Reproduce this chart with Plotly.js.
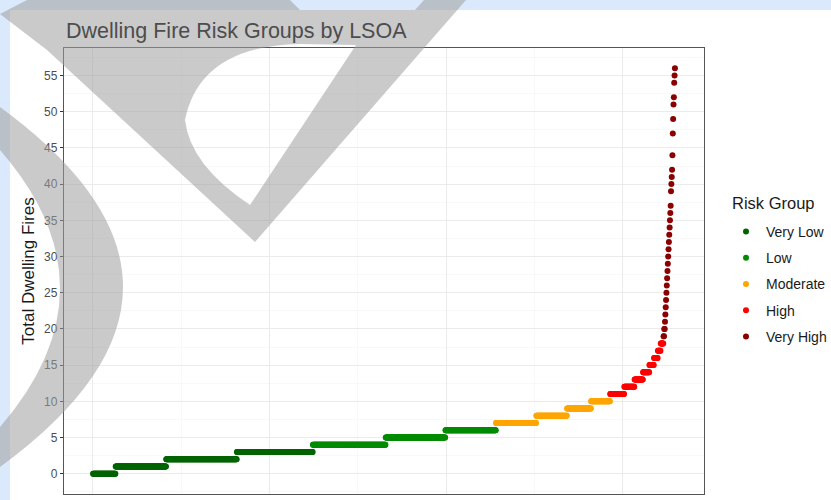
<!DOCTYPE html>
<html>
<head>
<meta charset="utf-8">
<script src="https://cdn.plot.ly/plotly-3.0.1.min.js"></script>
<style>
html,body{margin:0;padding:0;background:#ffffff;}
#chart{width:831px;height:500px;}
</style>
</head>
<body>
<div id="chart"></div>
<script>
// ---- Data (LSOAs sorted by total dwelling fires) ----
// total dwelling fires observed in an LSOA
const fireValues = [0,1,2,3,4,5,6,7,8,9,10,11,12,13,14,15,16,17,18,19,20,21,22,23,24,25,26,27,28,29,30,31,32,33,34,35,36,37,39,40,41,42,44,47,49,51,52,54,55,56];
// number of LSOAs having that total
const lsoaCounts = [64,143,200,215,206,169,143,114,87,68,54,40,29,24,18,13,11,8,8,2,2,1,1,1,1,1,1,1,1,1,1,1,1,1,1,1,1,1,1,1,1,1,1,1,1,1,1,1,1,1];
// risk groups and the highest fire total falling in each group
const riskGroups = ['Very Low','Low','Moderate','High','Very High'];
const groupMaxFires = [3,6,10,18,1000];

// ---- Build sorted LSOA points ----
const rankX = [], firesY = [];
let r = 0;
fireValues.forEach((v,i)=>{ for(let k=0;k<lsoaCounts[i];k++){ r++; rankX.push(r); firesY.push(v);} });
const N = rankX.length;

function groupOf(v){ for(let g=0; g<groupMaxFires.length; g++){ if(v<=groupMaxFires[g]) return g; } return groupMaxFires.length-1; }

const colors = ['#006400','#008B00','#FFA500','#FF0000','#8B0000'];
const FONT = 'Liberation Sans, Arial, Helvetica, sans-serif';

const traces = riskGroups.map((name,g)=>{
  const xs=[], ys=[];
  rankX.forEach((x,i)=>{ if(groupOf(firesY[i])===g){ xs.push(x); ys.push(firesY[i]); } });
  return {
    type:'scatter', mode:'markers', name:name, x:xs, y:ys,
    legendgroup:name,
    marker:{color:colors[g], size:6, line:{width:0}},
    hoverinfo:'x+y'
  };
});

// ---- Layout ----
const W=831, H=500, M={l:64, r:127, t:48, b:6};
const PW=W-M.l-M.r, PH=H-M.t-M.b;
const px = x => (x-M.l)/PW;
const py = y => 1-(y-M.t)/PH;
function pathOf(cmds){
  return cmds.map(c=>{
    const op=c[0]; const nums=c.slice(1); const out=[];
    for(let i=0;i<nums.length;i+=2){ out.push(px(nums[i]).toFixed(5)+','+py(nums[i+1]).toFixed(5)); }
    return op+out.join(' ');
  }).join(' ');
}

// watermark overlay (decorative strokes in the screenshot)
const wmA = pathOf([
  ['M',0,14],['L',27,0],['L',290,0],['L',300,10],['L',415,10],['L',424,0],['L',466,0],['L',255,242],['L',47,50],['Z'],
  ['M',250,205],['L',356,45],['L',300,44],['Q',200,46,185,120],['Q',190,165,250,205],['Z']
]);
const wmB = pathOf([
  ['M',0,107],['Q',246,287,0,467],['L',0,427],['Q',120,288,0,150],['Z']
]);

const pad = 0.05*(N-1);
const layout = {
  width:W, height:H,
  margin:{l:M.l, r:M.r, t:M.t, b:M.b, autoexpand:false},
  paper_bgcolor:'#ffffff', plot_bgcolor:'#ffffff',
  font:{family:FONT, color:'#1a1a1a'},
  title:{text:'Dwelling Fire Risk Groups by LSOA', font:{family:FONT, size:21.5, color:'#4d4d4d'},
         xref:'paper', x:px(66), xanchor:'left', yref:'container', y:1-30/H, yanchor:'middle'},
  xaxis:{range:[1-pad, N+pad], tick0:0, dtick:500, showticklabels:false, ticks:'',
         showgrid:true, gridcolor:'#ebebeb', gridwidth:1,
         minor:{tick0:0, dtick:250, showgrid:true, gridcolor:'#f3f3f3', gridwidth:0.6},
         showline:true, mirror:true, linecolor:'#555555', linewidth:1.2, zeroline:false, automargin:false},
  yaxis:{range:[-2.8, 58.8], tick0:0, dtick:5, ticks:'outside', ticklen:3, tickwidth:1, tickcolor:'#333333',
         tickfont:{family:FONT, size:12, color:'#4d4d4d'},
         showgrid:true, gridcolor:'#ebebeb', gridwidth:1,
         minor:{tick0:0, dtick:2.5, showgrid:true, gridcolor:'#f3f3f3', gridwidth:0.6},
         showline:true, mirror:true, linecolor:'#555555', linewidth:1.2, zeroline:false, automargin:false,
         title:{text:'Total Dwelling Fires', font:{family:FONT, size:17, color:'#1a1a1a'}, standoff:5}},
  showlegend:true,
  legend:{x:px(726), xanchor:'left', y:py(216), yanchor:'top', bgcolor:'rgba(0,0,0,0)',
          traceorder:'grouped', tracegroupgap:5,
          font:{family:FONT, size:14, color:'#1a1a1a'}},
  annotations:[
    {text:'Risk Group', xref:'paper', yref:'paper', x:px(730), y:py(203), xanchor:'left', yanchor:'middle',
     showarrow:false, font:{family:FONT, size:16.5, color:'#1a1a1a'}}
  ],
  shapes:[
    {type:'rect', xref:'paper', yref:'paper', x0:px(0), x1:px(W), y0:py(0), y1:py(10), fillcolor:'#dae9fb', line:{width:0}, layer:'below'},
    {type:'rect', xref:'paper', yref:'paper', x0:px(0), x1:px(10), y0:py(0), y1:py(H), fillcolor:'#dae9fb', line:{width:0}, layer:'below'},
    {type:'path', xref:'paper', yref:'paper', path:wmA, fillcolor:'rgba(158,158,158,0.55)', line:{width:0}, layer:'above'},
    {type:'path', xref:'paper', yref:'paper', path:wmB, fillcolor:'rgba(158,158,158,0.55)', line:{width:0}, layer:'above'}
  ]
};

Plotly.newPlot('chart', traces, layout, {displayModeBar:false, staticPlot:true});
</script>
</body>
</html>
